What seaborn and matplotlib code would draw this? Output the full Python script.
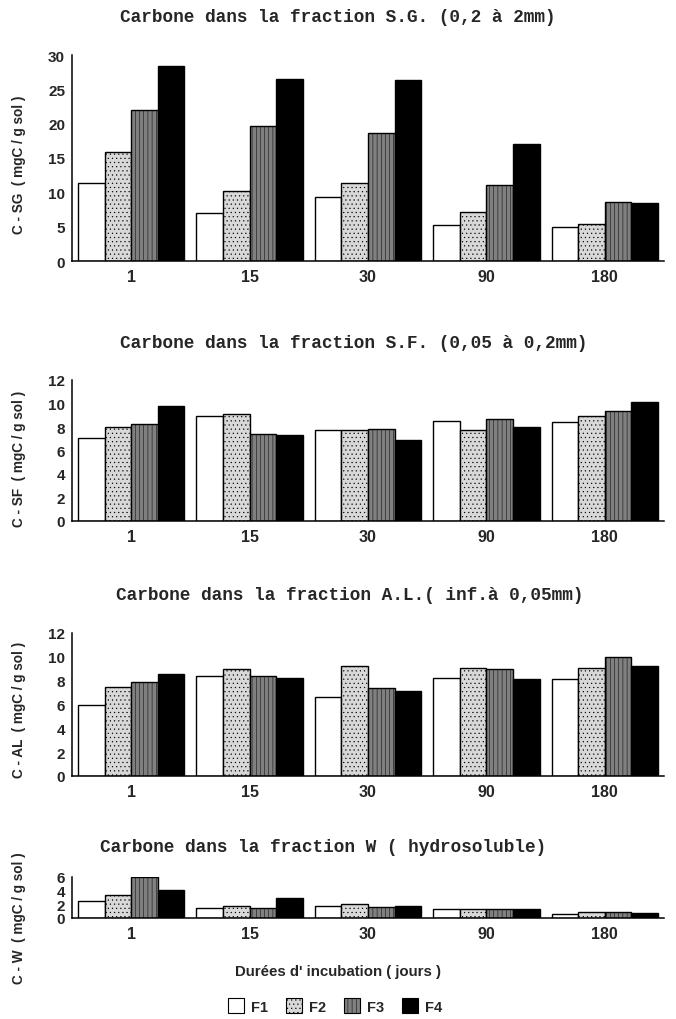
import matplotlib
matplotlib.use("Agg")
import matplotlib.pyplot as plt
import seaborn as sns
import pandas as pd
from matplotlib.patches import Patch

# ---- data ----
days = ["1", "15", "30", "90", "180"]
fractions = ["F1", "F2", "F3", "F4"]

c_sg = {
    "F1": [11.4, 7.0, 9.3, 5.2, 4.9],
    "F2": [15.9, 10.2, 11.3, 7.2, 5.4],
    "F3": [22.0, 19.6, 18.6, 11.0, 8.6],
    "F4": [28.4, 26.5, 26.4, 17.0, 8.4],
}
c_sf = {
    "F1": [7.05, 8.95, 7.75, 8.5, 8.45],
    "F2": [7.97, 9.12, 7.72, 7.77, 8.97],
    "F3": [8.28, 7.43, 7.85, 8.7, 9.32],
    "F4": [9.75, 7.3, 6.9, 7.98, 10.17],
}
c_al = {
    "F1": [5.95, 8.4, 6.6, 8.2, 8.1],
    "F2": [7.45, 9.0, 9.2, 9.1, 9.1],
    "F3": [7.9, 8.4, 7.4, 9.0, 10.0],
    "F4": [8.6, 8.2, 7.1, 8.1, 9.2],
}
c_w = {
    "F1": [2.5, 1.4, 1.7, 1.3, 0.6],
    "F2": [3.4, 1.8, 2.1, 1.3, 0.9],
    "F3": [6.0, 1.5, 1.55, 1.25, 0.95],
    "F4": [4.1, 3.0, 1.7, 1.3, 0.75],
}

titles = [
    "Carbone dans la fraction S.G. (0,2 à 2mm)",
    "Carbone dans la fraction S.F. (0,05 à 0,2mm)",
    "Carbone dans la fraction A.L.( inf.à 0,05mm)",
    "Carbone dans la fraction W ( hydrosoluble)",
]
ylabels = [
    "C - SG  ( mgC / g sol )",
    "C - SF  ( mgC / g sol )",
    "C - AL  ( mgC / g sol )",
    "C - W  ( mgC / g sol )",
]
ylims = [30, 12, 12, 6]
ysteps = [5, 2, 2, 2]
xlabel = "Durées d' incubation ( jours )"

# ---- style ----
sns.set_style("white")
plt.rcParams["font.family"] = ["Liberation Sans", "DejaVu Sans"]
plt.rcParams["hatch.linewidth"] = 0.35

face = {"F1": "white", "F2": "#d8d8d8", "F3": "#808080", "F4": "black"}
hatches = {"F1": None, "F2": "....", "F3": "||||", "F4": None}

W, H = 676, 1020
fig = plt.figure(figsize=(W / 100, H / 100), dpi=100)

# axes boxes in pixels: (left, right, top, bottom)
boxes = [(72, 664, 56, 262), (72, 664, 381, 522), (72, 664, 634, 777), (72, 664, 878, 919)]
title_pos = [(338, 17), (354, 343), (350, 595), (323, 848)]
ylabel_y = [0.47, 0.45, 0.47, 0.03]

datasets = [c_sg, c_sf, c_al, c_w]

for i, (d, box) in enumerate(zip(datasets, boxes)):
    l, r, t, b = box
    ax = fig.add_axes([l / W, 1 - b / H, (r - l) / W, (b - t) / H])
    rows = []
    for f in fractions:
        for day, v in zip(days, d[f]):
            rows.append({"jour": day, "val": v, "F": f})
    df = pd.DataFrame(rows)
    sns.barplot(data=df, x="jour", y="val", hue="F", order=days, hue_order=fractions,
                palette=face, width=0.9, edgecolor="black", linewidth=1.0,
                legend=False, ax=ax, errorbar=None)
    for cont, f in zip(ax.containers, fractions):
        for p in cont:
            if hatches[f]:
                p.set_hatch(hatches[f])
    ax.set_xlim(-0.5, 4.5)
    ax.set_ylim(0, ylims[i])
    ax.set_yticks(range(0, ylims[i] + 1, ysteps[i]))
    ax.set_xlabel("")
    ax.set_ylabel(ylabels[i], fontsize=9.8, fontweight="bold")
    ax.yaxis.set_label_coords(-0.078, ylabel_y[i])
    for s in ["top", "right"]:
        ax.spines[s].set_visible(False)
    for s in ["left", "bottom"]:
        ax.spines[s].set_linewidth(1.1)
        ax.spines[s].set_color("black")
    ax.tick_params(axis="x", which="major", length=0, pad=6, labelsize=11.5)
    ax.set_xticks([x - 0.5 for x in range(6)], minor=True)
    ax.tick_params(axis="x", which="minor", length=5, direction="inout", width=0.8)
    ax.tick_params(axis="y", length=4, direction="inout", width=0.8, pad=3, labelsize=11)
    for lab in ax.get_xticklabels() + ax.get_yticklabels():
        lab.set_fontweight("bold")
    tx, ty = title_pos[i]
    fig.text(tx / W, 1 - ty / H, titles[i], ha="center", va="center",
             family=["Liberation Mono", "DejaVu Sans Mono"], fontweight="bold", fontsize=12.8)

fig.text(338 / W, 1 - 972 / H, xlabel, ha="center", va="center", fontsize=10.8, fontweight="bold")

handles = [Patch(facecolor=face[f], edgecolor="black", hatch=hatches[f], linewidth=0.8, label=f)
           for f in fractions]
leg = fig.legend(handles=handles, loc="center", bbox_to_anchor=(335 / W, 1 - 1007 / H), ncol=4,
                 frameon=False, handlelength=1.1, handleheight=1.2, columnspacing=1.2,
                 handletextpad=0.5, prop={"weight": "bold", "size": 10.5})

fig.savefig("out.png", dpi=100, facecolor="white")
